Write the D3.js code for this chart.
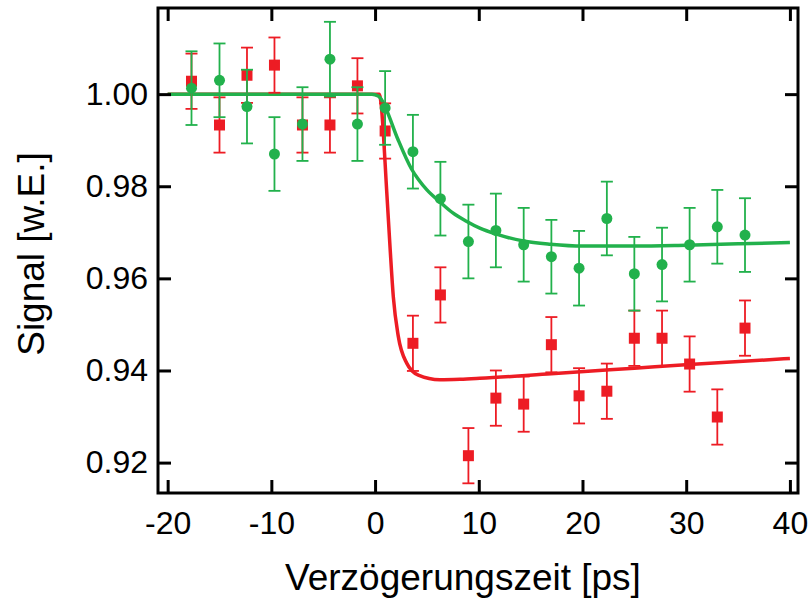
<!DOCTYPE html>
<html>
<head>
<meta charset="utf-8">
<script src="https://cdn.jsdelivr.net/npm/d3@7"></script>
<style>
  body { margin: 0; background: #fff; }
  svg { display: block; font-family: "Liberation Sans", Arial, sans-serif; }
</style>
</head>
<body>
<svg id="chart" width="808" height="599"></svg>
<script>
// delay times of the measured points (ps)
const delay = [-17.7, -15.0, -12.35, -9.7, -7.0, -4.35, -1.7, 0.97, 3.65, 6.3, 9.0,
               11.65, 14.33, 17.0, 19.67, 22.35, 25.0, 27.67, 30.33, 33.0, 35.67];

// green circles
const greenSignal = [1.0013, 1.0030, 0.9973, 0.9870, 0.9935, 1.0076, 0.9935, 0.9970, 0.9875, 0.9773, 0.9680,
                     0.9704, 0.9673, 0.9647, 0.9622, 0.9730, 0.9610, 0.9630, 0.9673, 0.9712, 0.9694];
const greenErr = [0.008, 0.008, 0.008, 0.008, 0.008, 0.0081, 0.008, 0.008, 0.008, 0.008, 0.008,
                  0.008, 0.008, 0.008, 0.0081, 0.008, 0.008, 0.008, 0.008, 0.008, 0.008];

// red squares
const redSignal = [1.0028, 0.9933, 1.0041, 1.0063, 0.9933, 0.9933, 1.0018, 0.9920, 0.9459, 0.9564, 0.9215,
                   0.9340, 0.9327, 0.9456, 0.9345, 0.9355, 0.9470, 0.9470, 0.9414, 0.9299, 0.9492];
const redErr = [0.006, 0.006, 0.006, 0.006, 0.006, 0.006, 0.006, 0.006, 0.006, 0.006, 0.006,
                0.006, 0.006, 0.006, 0.006, 0.006, 0.006, 0.006, 0.006, 0.006, 0.006];

// fit curves
const greenFitX = [-20, -0.3, 0.3, 0.6, 1.0, 2.2, 3.5, 4.2, 5.0, 6.3, 7.5, 8.8, 10.1, 11.7, 14.3, 16.9, 20, 25, 30, 35, 40];
const greenFitY = [1.0, 1.0, 0.9996, 0.9989, 0.9971, 0.9902, 0.9838, 0.9814, 0.9792, 0.9765, 0.9742, 0.9724,
                   0.9709, 0.9696, 0.9681, 0.9674, 0.9670, 0.9670, 0.9672, 0.9675, 0.9678];
const redFitX = [-20, 0.4, 0.6, 0.8, 1.06, 1.44, 1.76, 2.24, 3.05, 4.17, 6.26, 8.2, 10.1, 17.0, 25.0, 30.3, 40];
const redFitY = [1.0, 1.0, 0.9975, 0.9915, 0.9813, 0.9669, 0.9560, 0.9474, 0.9416, 0.9390, 0.9380, 0.9381,
                 0.9383, 0.9393, 0.9405, 0.9413, 0.9426];

const xTicks = [-20, -10, 0, 10, 20, 30, 40];
const yTicks = [0.92, 0.94, 0.96, 0.98, 1.00];

const GREEN = '#22b14c';
const RED = '#ed1c24';

const svg = d3.select('#chart');
const plotLeft = 158, plotTop = 8, plotRight = 798, plotBottom = 493;

const x = d3.scaleLinear().domain([-20.93, 40.78]).range([plotLeft, plotRight]);
const y = d3.scaleLinear().domain([0.9134, 1.0187]).range([plotBottom, plotTop]);

// fit lines
const line = d3.line().x(d => x(d[0])).y(d => y(d[1])).curve(d3.curveMonotoneX);

svg.append('path')
    .datum(d3.zip(redFitX, redFitY))
    .attr('d', line)
    .attr('fill', 'none')
    .attr('stroke', RED)
    .attr('stroke-width', 3.5);

svg.append('path')
    .datum(d3.zip(greenFitX, greenFitY))
    .attr('d', line)
    .attr('fill', 'none')
    .attr('stroke', GREEN)
    .attr('stroke-width', 3.5);

function errorBars(values, errs, color) {
    const g = svg.append('g').attr('stroke', color).attr('stroke-width', 1.8);
    const data = delay.map((t, i) => ({ t, v: values[i], e: errs[i] }));
    g.selectAll('.bar').data(data).enter().append('line')
        .attr('x1', d => x(d.t)).attr('x2', d => x(d.t))
        .attr('y1', d => y(d.v + d.e)).attr('y2', d => y(d.v - d.e));
    g.selectAll('.capTop').data(data).enter().append('line')
        .attr('x1', d => x(d.t) - 6).attr('x2', d => x(d.t) + 6)
        .attr('y1', d => y(d.v + d.e)).attr('y2', d => y(d.v + d.e));
    g.selectAll('.capBot').data(data).enter().append('line')
        .attr('x1', d => x(d.t) - 6).attr('x2', d => x(d.t) + 6)
        .attr('y1', d => y(d.v - d.e)).attr('y2', d => y(d.v - d.e));
    return data;
}

const redData = errorBars(redSignal, redErr, RED);
svg.selectAll('.sq').data(redData).enter().append('rect')
    .attr('x', d => x(d.t) - 5.5)
    .attr('y', d => y(d.v) - 5.5)
    .attr('width', 11)
    .attr('height', 11)
    .attr('fill', RED);

const greenData = errorBars(greenSignal, greenErr, GREEN);
svg.selectAll('.dot').data(greenData).enter().append('circle')
    .attr('cx', d => x(d.t))
    .attr('cy', d => y(d.v))
    .attr('r', 5.5)
    .attr('fill', GREEN);

// axes with inward ticks on all four sides
svg.append('g')
    .attr('transform', `translate(0,${plotBottom})`)
    .call(d3.axisBottom(x).tickValues(xTicks).tickSize(-13).tickPadding(18).tickFormat(d => String(d)));
svg.append('g')
    .attr('transform', `translate(${plotLeft},0)`)
    .call(d3.axisLeft(y).tickValues(yTicks).tickSize(-13).tickPadding(10).tickFormat(d3.format('.2f')));
svg.append('g')
    .attr('transform', `translate(0,${plotTop})`)
    .call(d3.axisTop(x).tickValues(xTicks).tickSize(-13).tickFormat(''));
svg.append('g')
    .attr('transform', `translate(${plotRight},0)`)
    .call(d3.axisRight(y).tickValues(yTicks).tickSize(-13).tickFormat(''));

svg.selectAll('.domain').remove();
svg.selectAll('.tick line').attr('stroke', '#000').attr('stroke-width', 3);
svg.selectAll('.tick text').attr('fill', '#000').style('font-size', '32px');

svg.append('rect')
    .attr('x', plotLeft).attr('y', plotTop)
    .attr('width', plotRight - plotLeft).attr('height', plotBottom - plotTop)
    .attr('fill', 'none')
    .attr('stroke', '#000')
    .attr('stroke-width', 3);

svg.append('text')
    .attr('x', 463).attr('y', 590)
    .attr('text-anchor', 'middle')
    .style('font-size', '37px')
    .text('Verzögerungszeit [ps]');

svg.append('text')
    .attr('transform', 'translate(44,254) rotate(-90)')
    .attr('text-anchor', 'middle')
    .style('font-size', '37px')
    .text('Signal [w.E.]');
</script>
</body>
</html>
